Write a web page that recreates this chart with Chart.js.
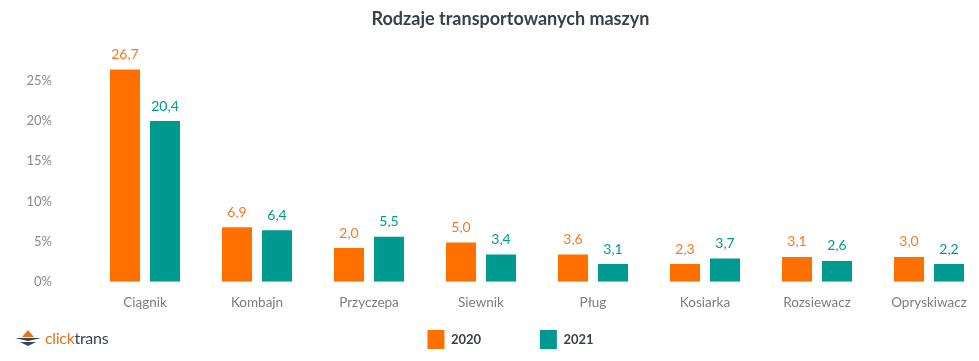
<!DOCTYPE html>
<html>
<head>
<meta charset="utf-8">
<script src="https://cdn.jsdelivr.net/npm/chart.js@4.4.1/dist/chart.umd.min.js"></script>
<style>
  html, body { margin: 0; padding: 0; background: #fff; overflow: hidden; }
  #wrap { position: relative; width: 1022px; height: 361px; }
  #logo { position: absolute; left: 14px; top: 328px; display: flex; align-items: center;
          font-family: Lato, sans-serif; font-size: 16px; letter-spacing: -0.3px; }
  #logo .c { color: #e8731a; }
  #logo .t { color: #3b4250; }
  #logo svg { margin-right: 3px; }
</style>
</head>
<body>
<div id="wrap">
  <canvas id="chart" width="1022" height="361"></canvas>
  <div id="logo">
    <svg width="28" height="18" viewBox="0 0 28 18">
      <polygon points="14,1 20,8 8,8" fill="#e8731a"/>
      <polygon points="1,9 27,9 14,12" fill="#3b4250"/>
      <polygon points="6,13 22,13 14,17" fill="#3b4250"/>
    </svg>
    <span class="c">click</span><span class="t">trans</span>
  </div>
</div>
<script>
const categories = ['Ciągnik', 'Kombajn', 'Przyczepa', 'Siewnik', 'Pług', 'Kosiarka', 'Rozsiewacz', 'Opryskiwacz'];
// bar heights as drawn in the picture (%)
const values2020 = [26.4, 6.8, 4.2, 4.9, 3.4, 2.2, 3.1, 3.1];
const values2021 = [20.0, 6.4, 5.6, 3.4, 2.2, 2.9, 2.6, 2.2];
// value labels as printed above the bars
const labels2020 = ['26,7', '6,9', '2,0', '5,0', '3,6', '2,3', '3,1', '3,0'];
const labels2021 = ['20,4', '6,4', '5,5', '3,4', '3,1', '3,7', '2,6', '2,2'];
const yTicks = [0, 5, 10, 15, 20, 25];

const orange = '#ff7000';
const teal = '#00998f';
const font = 'Lato, sans-serif';

const valueLabels = {
  id: 'valueLabels',
  afterDatasetsDraw(chart) {
    const ctx = chart.ctx;
    ctx.save();
    ctx.font = '14px ' + font;
    ctx.textAlign = 'center';
    ctx.textBaseline = 'bottom';
    chart.data.datasets.forEach((ds, i) => {
      chart.getDatasetMeta(i).data.forEach((bar, j) => {
        ctx.fillStyle = ds.labelColor;
        ctx.fillText(ds.valueText[j], bar.x, bar.y - 8);
      });
    });
    ctx.restore();
  }
};

// the original centres title and legend on a wider box than the plot
const centerShift = {
  id: 'centerShift',
  afterLayout(chart) {
    [chart.titleBlock, chart.legend].forEach(b => { b.left += 18; b.right += 18; });
    chart.legend.top += 4;
    chart.legend.bottom += 4;
  }
};

new Chart(document.getElementById('chart'), {
  type: 'bar',
  data: {
    labels: categories,
    datasets: [
      { label: '2020', data: values2020, valueText: labels2020, backgroundColor: orange, labelColor: '#f47a1f',
        categoryPercentage: 0.714, barPercentage: 0.75 },
      { label: '2021', data: values2021, valueText: labels2021, backgroundColor: teal, labelColor: teal,
        categoryPercentage: 0.714, barPercentage: 0.75 }
    ]
  },
  options: {
    responsive: false,
    animation: false,
    layout: { padding: { left: 0, right: 37, top: 0, bottom: 6 } },
    plugins: {
      title: {
        display: true,
        text: 'Rodzaje transportowanych maszyn',
        color: '#3a3f4a',
        font: { family: font, size: 18, weight: 'bold' },
        padding: { top: 8, bottom: 11 }
      },
      legend: {
        position: 'bottom',
        labels: {
          boxWidth: 17, boxHeight: 19, padding: 10,
          color: '#3a3f4a',
          font: { family: font, size: 13, weight: 'bold' },
          generateLabels: chart => {
            const items = Chart.defaults.plugins.legend.labels.generateLabels(chart);
            items.forEach((it, i) => {
              it.lineWidth = 0;
              if (i < items.length - 1) it.text = it.text + '\u2003\u2003\u2003\u2003\u2003';
            });
            return items;
          }
        }
      },
      tooltip: { enabled: false }
    },
    scales: {
      x: {
        grid: { display: false },
        border: { display: false },
        ticks: { color: '#7d7d7d', font: { family: font, size: 13.5 }, padding: 5 }
      },
      y: {
        min: 0, max: 30,
        grid: { display: false },
        border: { display: false },
        afterBuildTicks: scale => { scale.ticks = yTicks.map(v => ({ value: v })); },
        afterFit: scale => { scale.width = 89; },
        ticks: { color: '#8a8a8a', font: { family: font, size: 13 }, padding: 29,
                 callback: v => v + '%' }
      }
    }
  },
  plugins: [valueLabels, centerShift]
});
</script>
</body>
</html>
